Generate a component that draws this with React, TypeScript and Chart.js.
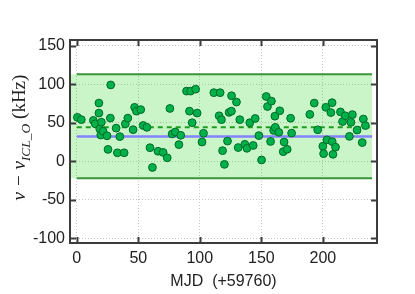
import { useEffect, useRef } from "react";
import { Chart, registerables } from "chart.js";

Chart.register(...registerables);

// MJD offsets (days after 59760)
const mjdOffset = [
  0.5, 3.7, 13.5, 15, 18, 18, 18.7, 19.5, 20, 21.4, 24.6, 25.4, 27.3, 27.6, 32, 33, 35, 38.5, 39.5, 41.5,
  45.8, 47, 48.5, 52, 54, 57, 59.5, 61.5, 66, 70.2, 73.5, 75.7, 77.5, 80, 83, 84.5, 89.2, 92.5, 96.6, 91.6,
  93.8, 97.8, 101.8, 103, 111.4, 116.5, 115.7, 117.6, 118.5, 120, 122.5, 123.8, 125.8, 125.7, 129.8, 131.2,
  132.5, 136.6, 138.3, 140.6, 143.4, 145, 148, 150.2, 154, 155, 157.5, 158.2, 160, 161, 161.3, 164.2, 165,
  167.8, 168.5, 171, 173.8, 174.6, 189.4, 193, 195.8, 200, 200.6, 202.4, 203.3, 206.5, 207.5, 207.6, 208.2,
  210.3, 214.3, 216, 218.2, 221.6, 222.8, 224, 227.8, 232, 232.9, 234.6,
];
// frequency offset nu - nu_ICL_O (kHz)
const deltaKHz = [
  57, 54, 53, 48.6, 75.5, 62.5, 42, 34, 50.7, 39, 33, 15.4, 56, 99, 43, 11, 32, 11, 48.6, 56,
  41, 70, 65, 67, 46.4, 44, 17.6, -8, 13, 11.5, 4.5, 68.5, 35.5, 38, 21.6, 33.7, 91, 91, 93.5, 65,
  50, 62.5, 25, 36.3, 89, 89, 59, 54, 13.8, -4, 26.2, 63.4, 85, 65, 76.8, 17.8,
  54, 22, 16.8, 50, 20.5, 55.5, 33.3, 1.7, 84, 71, 25.7, 78, 40, 58.5, 44, 37.5, 65.5,
  12.5, 25, 15.5, 55.8, 36.5, 60.8, 75.5, 40.8, 19.5, 9.9, 70, 27.8, 63.2, 76, 25.5, 9,
  18.3, 64, 51.5, 59, 32.3, 50.5, 60.5, 40.5, 24.3, 54.8, 46.3,
];

const xTicks = [0, 50, 100, 150, 200];
const yTicks = [-100, -50, 0, 50, 100, 150];
const xRange = [-5.5, 244];
const yRange = [-106, 157.3];

const bandUpper = 113;
const bandLower = -22;
const dashedLevel = 44;
const blueLevel = 32;
const lineSpan = [0, 240];

const TICK_FONT = '"Liberation Sans", Arial, sans-serif';
const SERIF = '"Liberation Serif", "DejaVu Serif", serif';

const framePlugin = {
  id: "frameTicksTitles",
  afterDatasetsDraw(chart: any) {
    const { ctx, chartArea, scales } = chart;
    const { left, right, top, bottom } = chartArea;
    const x = scales.x;
    const y = scales.y;
    ctx.save();
    ctx.strokeStyle = "#3c3c3c";
    ctx.lineWidth = 2;
    ctx.strokeRect(left, top, right - left, bottom - top);
    const tl = 6;
    ctx.beginPath();
    for (const v of xTicks) {
      const px = Math.round(x.getPixelForValue(v)) + 0.5;
      ctx.moveTo(px, bottom);
      ctx.lineTo(px, bottom - tl);
      ctx.moveTo(px, top);
      ctx.lineTo(px, top + tl);
    }
    for (const v of yTicks) {
      const py = Math.round(y.getPixelForValue(v)) + 0.5;
      ctx.moveTo(left, py);
      ctx.lineTo(left + tl, py);
      ctx.moveTo(right, py);
      ctx.lineTo(right - tl, py);
    }
    ctx.stroke();
    ctx.restore();
  },
  afterDraw(chart: any) {
    const { ctx, chartArea } = chart;
    const { left, right, top, bottom } = chartArea;
    ctx.save();
    // x title
    ctx.fillStyle = "#222";
    ctx.font = `16px ${TICK_FONT}`;
    ctx.textAlign = "center";
    ctx.textBaseline = "middle";
    ctx.fillText("MJD  (+59760)", (left + right) / 2, 282);
    // y title (rotated, with subscript)
    const parts = [
      { t: "ν − ν", f: `italic 19px ${SERIF}`, dy: 0 },
      { t: "ICL_O", f: `italic 13.5px ${SERIF}`, dy: 4.5 },
      { t: " (kHz)", f: `19px ${SERIF}`, dy: 0 },
    ];
    let total = 0;
    const widths: number[] = [];
    for (const p of parts) {
      ctx.font = p.f;
      const w = ctx.measureText(p.t).width;
      widths.push(w);
      total += w;
    }
    ctx.translate(25, (top + bottom) / 2 - 4);
    ctx.rotate(-Math.PI / 2);
    ctx.textAlign = "left";
    ctx.textBaseline = "alphabetic";
    let cx = -total / 2;
    parts.forEach((p, i) => {
      ctx.font = p.f;
      ctx.fillText(p.t, cx, p.dy);
      cx += widths[i];
    });
    ctx.restore();
  },
};

export default function App() {
  const ref = useRef<HTMLCanvasElement | null>(null);
  useEffect(() => {
    if (!ref.current) return;
    const points = mjdOffset.map((m, i) => ({ x: m, y: deltaKHz[i] }));
    const hline = (v: number) => [
      { x: lineSpan[0], y: v },
      { x: lineSpan[1], y: v },
    ];
    const chart = new Chart(ref.current, {
      type: "scatter",
      data: {
        datasets: [
          {
            data: points,
            backgroundColor: "#00b04a",
            borderColor: "#006b25",
            borderWidth: 1,
            pointRadius: 3.9,
            order: 0,
          },
          {
            data: hline(blueLevel),
            showLine: true,
            borderColor: "#8383ff",
            borderWidth: 2.5,
            pointRadius: 0,
            order: 1,
          },
          {
            data: hline(dashedLevel),
            showLine: true,
            borderColor: "#1e9e1e",
            borderWidth: 2,
            borderDash: [5, 4],
            pointRadius: 0,
            order: 1,
          },
          {
            data: hline(bandUpper),
            showLine: true,
            borderColor: "#3a943a",
            borderWidth: 2,
            pointRadius: 0,
            order: 2,
          },
          {
            data: hline(bandLower),
            showLine: true,
            borderColor: "#3a943a",
            borderWidth: 2,
            pointRadius: 0,
            order: 2,
          },
          {
            data: [
              { x: xRange[0], y: bandUpper },
              { x: lineSpan[1], y: bandUpper },
            ],
            showLine: true,
            borderWidth: 0,
            borderColor: "rgba(0,0,0,0)",
            backgroundColor: "rgba(40,215,40,0.25)",
            fill: { value: bandLower },
            pointRadius: 0,
            order: 3,
          },
        ],
      },
      options: {
        animation: false,
        responsive: false,
        events: [],
        layout: { padding: { left: 0, right: 38, top: 40, bottom: 0 } },
        plugins: { legend: { display: false }, tooltip: { enabled: false } },
        scales: {
          x: {
            type: "linear",
            min: xRange[0],
            max: xRange[1],
            afterBuildTicks: (s: any) => {
              s.ticks = xTicks.map((v) => ({ value: v }));
            },
            afterFit: (s: any) => {
              s.height = 51;
            },
            grid: { color: "#c4c4c4", lineWidth: 1, drawTicks: false },
            border: { display: false, dash: [1, 2] },
            ticks: { color: "#222", padding: 6, font: { family: TICK_FONT, size: 16 }, maxRotation: 0 },
          },
          y: {
            type: "linear",
            min: yRange[0],
            max: yRange[1],
            afterBuildTicks: (s: any) => {
              s.ticks = yTicks.map((v) => ({ value: v }));
            },
            afterFit: (s: any) => {
              s.width = 70;
            },
            grid: { color: "#c4c4c4", lineWidth: 1, drawTicks: false },
            border: { display: false, dash: [1, 2] },
            ticks: { color: "#222", padding: 5, font: { family: TICK_FONT, size: 16 } },
          },
        },
      },
      plugins: [framePlugin],
    } as any);
    return () => chart.destroy();
  }, []);
  return (
    <div style={{ position: "fixed", left: 0, top: 0, width: 415, height: 294, background: "#fff" }}>
      <canvas ref={ref} width={415} height={294} style={{ display: "block" }} />
    </div>
  );
}
